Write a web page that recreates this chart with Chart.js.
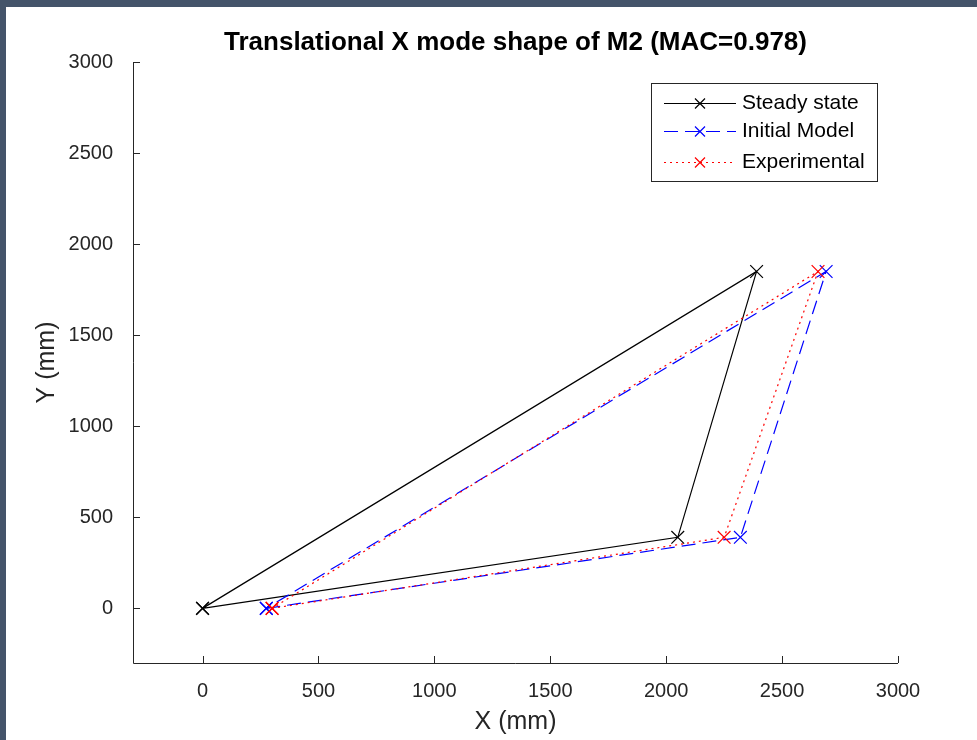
<!DOCTYPE html>
<html>
<head>
<meta charset="utf-8">
<script src="https://cdn.jsdelivr.net/npm/chart.js@4.4.1/dist/chart.umd.min.js"></script>
<style>
  html, body { margin: 0; padding: 0; background: #44546a; }
  #panel { position: absolute; left: 6px; top: 7px; width: 971px; height: 733px; background: #fff; }
  canvas { display: block; }
</style>
</head>
<body>
<div id="panel"><canvas id="chart" width="971" height="733"></canvas></div>
<script>
const titleText = 'Translational X mode shape of M2 (MAC=0.978)'
const xLabel = 'X (mm)'
const yLabel = 'Y (mm)'
const seriesNames = ['Steady state', 'Initial Model', 'Experimental']

const steadyX = [0, 2050, 2390, 0]
const steadyY = [0, 390, 1850, 0]
const initialX = [275, 2320, 2690, 275]
const initialY = [0, 390, 1850, 0]
const experimentalX = [300, 2250, 2655, 300]
const experimentalY = [0, 390, 1850, 0]

const xTicks = [0, 500, 1000, 1500, 2000, 2500, 3000]
const yTicks = [0, 500, 1000, 1500, 2000, 2500, 3000]

const axisColor = '#262626'
const font = '"Liberation Sans", Arial, sans-serif'

const toPoints = (xs, ys) => xs.map((x, i) => ({ x: x, y: ys[i] }))

const styles = [
  { color: '#000000', dash: [] },
  { color: '#0000ff', dash: [14, 7] },
  { color: '#ff0000', dash: [2, 4] }
]

const matlabAxes = {
  id: 'matlabAxes',
  afterDraw(chart) {
    const ctx = chart.ctx
    const area = chart.chartArea
    const xs = chart.scales.x
    const ys = chart.scales.y
    ctx.save()
    // axis lines (left and bottom only)
    ctx.strokeStyle = axisColor
    ctx.lineWidth = 1
    ctx.beginPath()
    ctx.moveTo(area.left + 0.5, area.top)
    ctx.lineTo(area.left + 0.5, area.bottom + 0.5)
    ctx.lineTo(area.right, area.bottom + 0.5)
    ctx.stroke()
    // inward ticks
    ctx.beginPath()
    xTicks.forEach(v => {
      const px = Math.round(xs.getPixelForValue(v)) + 0.5
      ctx.moveTo(px, area.bottom)
      ctx.lineTo(px, area.bottom - 7)
    })
    yTicks.forEach(v => {
      const py = Math.round(ys.getPixelForValue(v)) + 0.5
      ctx.moveTo(area.left, py)
      ctx.lineTo(area.left + 7, py)
    })
    ctx.stroke()

    // title
    ctx.fillStyle = '#000'
    ctx.font = 'bold 26px ' + font
    ctx.textAlign = 'center'
    ctx.textBaseline = 'middle'
    ctx.fillText(titleText, (area.left + area.right) / 2, 36)

    // axis labels
    ctx.fillStyle = axisColor
    ctx.font = '25px ' + font
    ctx.fillText(xLabel, (area.left + area.right) / 2, 715)
    ctx.save()
    ctx.translate(41, (area.top + area.bottom) / 2)
    ctx.rotate(-Math.PI / 2)
    ctx.fillText(yLabel, 0, 0)
    ctx.restore()

    // legend box
    const lx = 645, ly = 76, lw = 226, lh = 98
    ctx.fillStyle = '#fff'
    ctx.fillRect(lx, ly, lw, lh)
    ctx.strokeStyle = axisColor
    ctx.lineWidth = 1
    ctx.strokeRect(lx + 0.5, ly + 0.5, lw, lh)
    const rows = [96, 124, 155]
    seriesNames.forEach((name, i) => {
      const y = rows[i] + 0.5
      ctx.strokeStyle = styles[i].color
      ctx.lineWidth = 1.2
      ctx.setLineDash(styles[i].dash)
      ctx.beginPath()
      ctx.moveTo(658, y)
      ctx.lineTo(730, y)
      ctx.stroke()
      ctx.setLineDash([])
      const mx = 694, r = 5
      ctx.beginPath()
      ctx.moveTo(mx - r, y - r); ctx.lineTo(mx + r, y + r)
      ctx.moveTo(mx - r, y + r); ctx.lineTo(mx + r, y - r)
      ctx.stroke()
      ctx.fillStyle = '#000'
      ctx.font = '21px ' + font
      ctx.textAlign = 'left'
      ctx.fillText(name, 736, rows[i])
    })
    ctx.restore()
  }
}

const datasetsData = [
  toPoints(steadyX, steadyY),
  toPoints(initialX, initialY),
  toPoints(experimentalX, experimentalY)
]

new Chart(document.getElementById('chart'), {
  type: 'scatter',
  data: {
    datasets: datasetsData.map((pts, i) => ({
      label: seriesNames[i],
      data: pts,
      showLine: true,
      borderColor: styles[i].color,
      borderWidth: 1.2,
      borderDash: styles[i].dash,
      pointStyle: 'crossRot',
      pointRadius: 9,
      pointBorderWidth: 1.2,
      pointBorderColor: styles[i].color,
      pointBackgroundColor: styles[i].color,
      pointHoverRadius: 9,
      order: 2 - i
    }))
  },
  options: {
    responsive: false,
    animation: false,
    events: [],
    layout: { padding: { left: 0, right: 79, top: 55, bottom: 0 } },
    plugins: { legend: { display: false }, title: { display: false }, tooltip: { enabled: false } },
    scales: {
      x: {
        type: 'linear',
        min: -300,
        max: 3000,
        afterBuildTicks: axis => { axis.ticks = xTicks.map(v => ({ value: v })) },
        afterFit: axis => { axis.height = 77 },
        grid: { display: false },
        border: { display: false },
        ticks: { color: axisColor, font: { family: font, size: 20 }, padding: 8, maxRotation: 0, callback: v => String(v) }
      },
      y: {
        type: 'linear',
        min: -300,
        max: 3000,
        afterBuildTicks: axis => { axis.ticks = yTicks.map(v => ({ value: v })) },
        afterFit: axis => { axis.width = 127 },
        grid: { display: false },
        border: { display: false },
        ticks: { color: axisColor, font: { family: font, size: 20 }, padding: 12, callback: v => String(v) }
      }
    }
  },
  plugins: [matlabAxes]
})
</script>
</body>
</html>
